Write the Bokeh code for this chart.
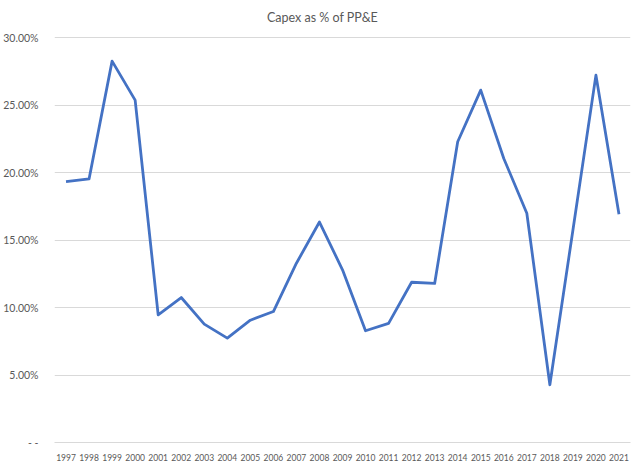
"""Capex as % of PP&E, line chart."""
from bokeh.plotting import figure
from bokeh.models import ColumnDataSource, FactorRange, Range1d, FixedTicker, NumeralTickFormatter
from bokeh.core.properties import value
from bokeh.embed import file_html
from bokeh.resources import INLINE

years = [str(y) for y in range(1997, 2022)]
# capex as a fraction of PP&E
capex_pct = [
    0.1932, 0.1952, 0.2825, 0.2536, 0.0946, 0.1074, 0.0877, 0.0773, 0.0906,
    0.0970, 0.1328, 0.1633, 0.1279, 0.0828, 0.0882, 0.1187, 0.1178, 0.2228,
    0.2610, 0.2104, 0.1698, 0.0428, 0.1572, 0.2721, 0.1690,
]
y_ticks = [0, 0.05, 0.10, 0.15, 0.20, 0.25, 0.30]
title_text = "Capex as % of PP&E"

FONT = "Lato"
TEXT = "#595959"
GRID = "#d9d9d9"
BLUE = "#4472C4"

source = ColumnDataSource(data=dict(year=years, pct=capex_pct))

# the range runs a little above 30% so the title sits inside the frame
p = figure(
    width=640, height=464,
    x_range=FactorRange(*years, range_padding=0),
    y_range=Range1d(0, 0.32),
    output_backend="svg", toolbar_location=None,
    min_border_left=50, min_border_right=10, min_border_top=10, min_border_bottom=22,
)
p.outline_line_color = None
p.background_fill_color = "white"
p.border_fill_color = "white"

p.line(x="year", y="pct", source=source, color=BLUE, line_width=2.8, line_join="round")

p.xgrid.grid_line_color = None
p.ygrid.grid_line_color = GRID
p.ygrid.grid_line_width = 1
p.ygrid.ticker = FixedTicker(ticks=y_ticks)

p.yaxis.ticker = FixedTicker(ticks=y_ticks)
p.yaxis.formatter = NumeralTickFormatter(format="0.00%")
p.yaxis.major_label_overrides = {0: "- -"}
p.yaxis.axis_line_color = None
p.yaxis.major_tick_line_color = None
p.yaxis.minor_tick_line_color = None
p.yaxis.major_label_standoff = 10
p.yaxis.major_label_text_font = FONT
p.yaxis.major_label_text_font_size = "10.5px"
p.yaxis.major_label_text_color = TEXT

p.xaxis.axis_line_color = GRID
p.xaxis.axis_line_width = 1
p.xaxis.major_tick_line_color = None
p.xaxis.minor_tick_line_color = None
p.xaxis.major_label_standoff = 5
p.xaxis.major_label_text_font = FONT
p.xaxis.major_label_text_font_size = "8.5px"
p.xaxis.major_label_text_color = TEXT

# title, centred over the whole chart rather than the plot area
p.text(
    x=[years[len(years) // 2]], y=[0.3147], text=[title_text], x_offset=-20,
    text_font=value(FONT), text_font_size="12.5px", text_color=TEXT,
    text_align="center", text_baseline="middle",
)

open("out.html", "w").write(file_html(p, INLINE))
